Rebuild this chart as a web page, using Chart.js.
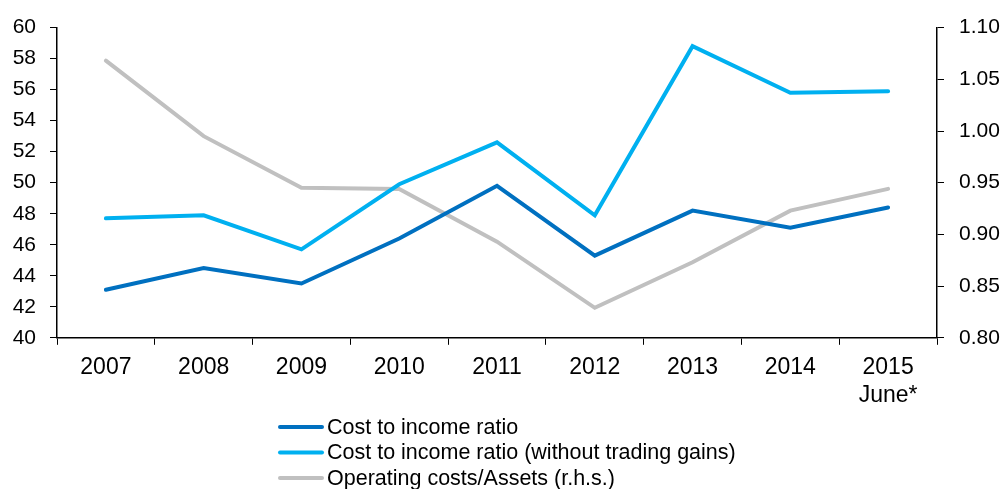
<!DOCTYPE html>
<html>
<head>
<meta charset="utf-8">
<script src="https://cdn.jsdelivr.net/npm/chart.js@4"></script>
<style>
  html, body { margin: 0; padding: 0; background: #fff; }
  #wrap { width: 1003px; height: 489px; position: relative; }
</style>
</head>
<body>
<div id="wrap"><canvas id="myChart" width="1003" height="489"></canvas></div>
<script>
const labels = ['2007', '2008', '2009', '2010', '2011', '2012', '2013', '2014', ['2015', 'June*']];
const costIncome = [43.1, 44.5, 43.5, 46.4, 49.8, 45.3, 48.2, 47.1, 48.4];
const costIncomeNoTrading = [47.7, 47.9, 45.7, 49.9, 52.6, 47.9, 58.8, 55.8, 55.9];
const opCostsAssets = [1.068, 0.995, 0.945, 0.944, 0.893, 0.829, 0.873, 0.923, 0.944];
const leftTicks = [40, 60, 2];
const rightTicks = [0.80, 1.10, 0.05];

const FONT = 'Liberation Sans, Arial, sans-serif';

// legend drawn as a vertical list under the plot
const legendPlugin = {
  id: 'vlegend',
  afterDraw(chart) {
    const ctx = chart.ctx;
    ctx.save();
    ctx.font = '21.5px ' + FONT;
    ctx.textBaseline = 'middle';
    chart.data.datasets.forEach((ds, i) => {
      const y = 427 + i * 25.5;
      ctx.strokeStyle = ds.borderColor;
      ctx.lineWidth = 4;
      ctx.lineCap = 'round';
      ctx.beginPath();
      ctx.moveTo(280, y);
      ctx.lineTo(322, y);
      ctx.stroke();
      ctx.fillStyle = '#000';
      ctx.fillText(ds.label, 327, y + 1);
    });
    ctx.restore();
  }
};

const data = {
  labels: labels,
  datasets: [{
    label: 'Cost to income ratio',
    data: costIncome,
    borderColor: '#0070C0',
    yAxisID: 'y'
  }, {
    label: 'Cost to income ratio (without trading gains)',
    data: costIncomeNoTrading,
    borderColor: '#00B0F0',
    yAxisID: 'y'
  }, {
    label: 'Operating costs/Assets (r.h.s.)',
    data: opCostsAssets,
    borderColor: '#C0C0C0',
    yAxisID: 'y1'
  }]
};
data.datasets.forEach(d => {
  d.borderWidth = 4;
  d.pointRadius = 0;
  d.tension = 0;
  d.borderCapStyle = 'round';
  d.borderJoinStyle = 'miter';
  d.fill = false;
});

const config = {
  type: 'line',
  data,
  options: {
    responsive: false,
    animation: false,
    layout: { padding: { left: 0, right: 0, top: 16, bottom: 71 } },
    plugins: { legend: { display: false }, tooltip: { enabled: false } },
    scales: {
      x: {
        offset: true,
        grid: { offset: true, drawOnChartArea: false, drawTicks: true, tickLength: 7, color: '#000', lineWidth: 1 },
        border: { color: '#000', width: 1.5 },
        ticks: { color: '#000', font: { family: FONT, size: 23 }, maxRotation: 0, padding: 9 }
      },
      y: {
        position: 'left',
        min: leftTicks[0], max: leftTicks[1],
        afterBuildTicks(axis) {
          const t = [];
          for (let v = leftTicks[0]; v <= leftTicks[1] + 1e-9; v += leftTicks[2]) t.push({ value: v });
          axis.ticks = t;
        },
        grid: { drawOnChartArea: false, drawTicks: true, tickLength: 7, color: '#000' },
        border: { color: '#000', width: 1.5 },
        ticks: { color: '#000', font: { family: FONT, size: 21 }, padding: 14 },
        afterFit(axis) { axis.width = 57; }
      },
      y1: {
        position: 'right',
        min: rightTicks[0], max: rightTicks[1],
        afterBuildTicks(axis) {
          const t = [];
          for (let i = 0; i <= 6; i++) t.push({ value: rightTicks[0] + i * rightTicks[2] });
          axis.ticks = t;
        },
        grid: { drawOnChartArea: false, drawTicks: true, tickLength: 7, color: '#000' },
        border: { color: '#000', width: 1.5 },
        ticks: { color: '#000', font: { family: FONT, size: 21 }, padding: 15, callback: v => v.toFixed(2) },
        afterFit(axis) { axis.width = 66; }
      }
    }
  },
  plugins: [legendPlugin]
};

new Chart(document.getElementById('myChart'), config);
</script>
</body>
</html>
